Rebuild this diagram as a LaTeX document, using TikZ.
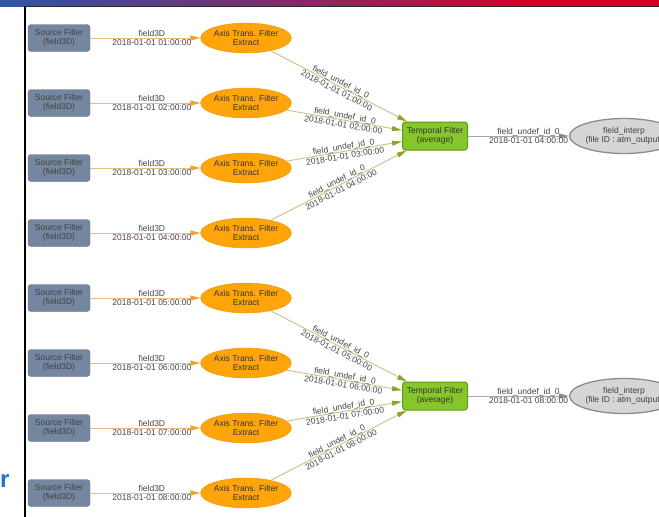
\documentclass[tikz,border=0pt]{standalone}
\usepackage{fontspec}
\setmainfont{Liberation Sans}
\usetikzlibrary{shapes.geometric,arrows.meta}

\definecolor{barblue}{HTML}{2F55A4}
\definecolor{barpurple}{HTML}{7A2F6E}
\definecolor{barred}{HTML}{D7002A}
\definecolor{srcfill}{HTML}{7587A0}
\definecolor{srcedge}{HTML}{5F6F82}
\definecolor{axisfill}{HTML}{FFA50A}
\definecolor{axisedge}{HTML}{E8940A}
\definecolor{tempfill}{HTML}{86C62A}
\definecolor{tempedge}{HTML}{5E9A14}
\definecolor{outfill}{HTML}{D6D6D6}
\definecolor{outedge}{HTML}{8C8C8C}
\definecolor{feedline}{HTML}{E6BC80}
\definecolor{feedtip}{HTML}{F2A227}
\definecolor{mergeline}{HTML}{CDBF86}
\definecolor{mergetip}{HTML}{8FA526}
\definecolor{emitline}{HTML}{A9A9A0}
\definecolor{emittip}{HTML}{8A8A8A}
\definecolor{lbltext}{HTML}{454545}
\definecolor{slideblue}{HTML}{1F74C4}

\begin{document}
\begin{tikzpicture}
    [x=1pt, y=-1pt,
    font=\fontsize{8.5}{9.5}\selectfont,
    srcbox/.style={draw=srcedge, fill=srcfill, rounded corners=3pt, minimum width=62pt, minimum height=27pt, inner sep=0pt, align=center, text=black!75},
    axisnode/.style={ellipse, draw=axisedge, fill=axisfill, minimum width=86pt, minimum height=30pt, inner sep=0pt, align=center, text=black!80},
    tempbox/.style={draw=tempedge, line width=1pt, fill=tempfill, rounded corners=3pt, minimum width=65pt, minimum height=28pt, inner sep=0pt, align=center, text=black!80},
    outnode/.style={ellipse, draw=outedge, line width=1.3pt, fill=outfill, minimum width=102pt, minimum height=35pt, inner sep=0pt, align=center, text=black!75},
    feed/.style={draw=feedline, line width=0.9pt, -{Triangle[length=10pt,width=5pt,color=feedtip]}},
    merge/.style={draw=mergeline, line width=0.9pt, -{Triangle[length=10pt,width=5pt,color=mergetip]}},
    emit/.style={draw=emitline, line width=0.9pt, -{Triangle[length=10pt,width=5pt,color=emittip]}},
    lbl/.style={text=lbltext, align=center, inner sep=0pt},
    feedlbl/.style={lbl, pos=0.56},
    slopelbl/.style={lbl, sloped, midway},
    emitlbl/.style={lbl, pos=0.6}]
        \useasboundingbox (0,0) rectangle (659,517);
        \clip (0,0) rectangle (659,517);

        %% slide frame
        \shade[left color=barblue, right color=barred, middle color=barpurple] (0,0) rectangle (530,6);
        \fill[barred] (530,0) rectangle (659,6);
        \draw[line width=2.5pt] (25,6) -- (25,517);
        \draw[line width=1.2pt, black!85] (25,6.6) -- (659,6.6);
        \node[text=slideblue, font=\fontsize{24}{24}\selectfont\bfseries, anchor=base west, inner sep=0pt] (frag) at (0,487) {r};

        %% Sources
        \node[srcbox] (S1) at (59,38) {Source Filter\\(field3D)};
        \node[srcbox] (S2) at (59,103) {Source Filter\\(field3D)};
        \node[srcbox] (S3) at (59,168) {Source Filter\\(field3D)};
        \node[srcbox] (S4) at (59,233) {Source Filter\\(field3D)};
        \node[srcbox] (S5) at (59,298) {Source Filter\\(field3D)};
        \node[srcbox] (S6) at (59,363) {Source Filter\\(field3D)};
        \node[srcbox] (S7) at (59,428) {Source Filter\\(field3D)};
        \node[srcbox] (S8) at (59,493) {Source Filter\\(field3D)};

        %% Axis transforms
        \node[axisnode] (A1) at (246,38) {Axis Trans. Filter\\Extract};
        \node[axisnode] (A2) at (246,103) {Axis Trans. Filter\\Extract};
        \node[axisnode] (A3) at (246,168) {Axis Trans. Filter\\Extract};
        \node[axisnode] (A4) at (246,233) {Axis Trans. Filter\\Extract};
        \node[axisnode] (A5) at (246,298) {Axis Trans. Filter\\Extract};
        \node[axisnode] (A6) at (246,363) {Axis Trans. Filter\\Extract};
        \node[axisnode] (A7) at (246,428) {Axis Trans. Filter\\Extract};
        \node[axisnode] (A8) at (246,493) {Axis Trans. Filter\\Extract};

        %% Temporal filters and outputs
        \node[tempbox] (T1) at (435,136) {Temporal Filter\\(average)};
        \node[tempbox] (T2) at (435,396) {Temporal Filter\\(average)};
        \node[outnode] (O1) at (624,136) {field\_interp\\(file ID : atm\_output)};
        \node[outnode] (O2) at (624,396) {field\_interp\\(file ID : atm\_output)};

        \draw[feed] (S1) to node[feedlbl] {field3D\\2018-01-01 01:00:00} (A1);
        \draw[feed] (S2) to node[feedlbl] {field3D\\2018-01-01 02:00:00} (A2);
        \draw[feed] (S3) to node[feedlbl] {field3D\\2018-01-01 03:00:00} (A3);
        \draw[feed] (S4) to node[feedlbl] {field3D\\2018-01-01 04:00:00} (A4);
        \draw[feed] (S5) to node[feedlbl] {field3D\\2018-01-01 05:00:00} (A5);
        \draw[feed] (S6) to node[feedlbl] {field3D\\2018-01-01 06:00:00} (A6);
        \draw[feed] (S7) to node[feedlbl] {field3D\\2018-01-01 07:00:00} (A7);
        \draw[feed] (S8) to node[feedlbl] {field3D\\2018-01-01 08:00:00} (A8);

        \draw[merge] (A1) to node[slopelbl] {field\_undef\_id\_0\\2018-01-01 01:00:00} (T1);
        \draw[merge] (A2) to node[slopelbl] {field\_undef\_id\_0\\2018-01-01 02:00:00} (T1);
        \draw[merge] (A3) to node[slopelbl] {field\_undef\_id\_0\\2018-01-01 03:00:00} (T1);
        \draw[merge] (A4) to node[slopelbl] {field\_undef\_id\_0\\2018-01-01 04:00:00} (T1);
        \draw[merge] (A5) to node[slopelbl] {field\_undef\_id\_0\\2018-01-01 05:00:00} (T2);
        \draw[merge] (A6) to node[slopelbl] {field\_undef\_id\_0\\2018-01-01 06:00:00} (T2);
        \draw[merge] (A7) to node[slopelbl] {field\_undef\_id\_0\\2018-01-01 07:00:00} (T2);
        \draw[merge] (A8) to node[slopelbl] {field\_undef\_id\_0\\2018-01-01 08:00:00} (T2);

        \draw[emit] (T1) to node[emitlbl] {field\_undef\_id\_0\\2018-01-01 04:00:00} (O1);
        \draw[emit] (T2) to node[emitlbl] {field\_undef\_id\_0\\2018-01-01 08:00:00} (O2);
    \end{tikzpicture}
\end{document}
